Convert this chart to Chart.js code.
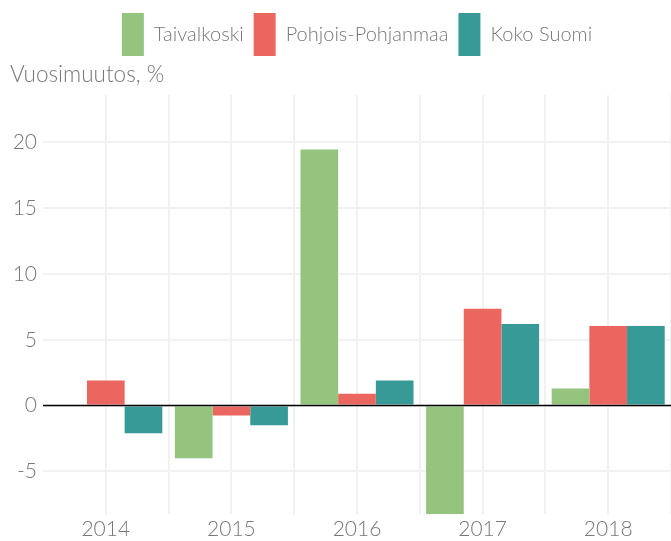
<!DOCTYPE html>
<html>
<head>
<meta charset="utf-8">
<script src="https://cdn.jsdelivr.net/npm/chart.js@4/dist/chart.umd.min.js"></script>
<style>
  html, body { margin: 0; padding: 0; background: #fff; }
  #wrap { width: 671px; height: 541px; }
</style>
</head>
<body>
<div id="wrap"><canvas id="chart"></canvas></div>
<script>
// data
const years = ['2014', '2015', '2016', '2017', '2018'];
const taivalkoski = [0, -4.0, 19.45, -9.5, 1.3];
const pohjoisPohjanmaa = [1.9, -0.75, 0.9, 7.35, 6.05];
const kokoSuomi = [-2.1, -1.5, 1.9, 6.2, 6.05];
const yTicks = [-5, 0, 5, 10, 15, 20];

const textGrey = '#777777';
const gridGrey = '#f1f1f1';
Chart.defaults.font.family = 'Lato, "Open Sans", sans-serif';
Chart.defaults.font.weight = 300;
Chart.defaults.color = textGrey;

// black line at zero, on top of the bars
const zeroLine = {
    id: 'zeroLine',
    afterDatasetsDraw(chart) {
        const { ctx, chartArea, scales } = chart;
        const y = scales.y.getPixelForValue(0);
        ctx.save();
        ctx.strokeStyle = '#000';
        ctx.lineWidth = 1.5;
        ctx.beginPath();
        ctx.moveTo(chartArea.left, y);
        ctx.lineTo(chartArea.right, y);
        ctx.stroke();
        ctx.restore();
    }
};

const ctx = document.getElementById('chart').getContext('2d');
new Chart(ctx, {
    type: 'bar',
    data: {
        labels: years,
        datasets: [
            { label: 'Taivalkoski', data: taivalkoski, backgroundColor: '#94c47e' },
            { label: 'Pohjois-Pohjanmaa', data: pohjoisPohjanmaa, backgroundColor: '#ec6660' },
            { label: 'Koko Suomi', data: kokoSuomi, backgroundColor: '#389a96' }
        ]
    },
    options: {
        responsive: true,
        maintainAspectRatio: false,
        animation: false,
        layout: { padding: { left: 10, right: 0, top: 3, bottom: 0 } },
        datasets: { bar: { categoryPercentage: 0.9, barPercentage: 1.0 } },
        plugins: {
            tooltip: { enabled: false },
            legend: {
                position: 'top',
                fullSize: false,
                weight: 3000,
                labels: {
                    boxWidth: 22,
                    boxHeight: 43,
                    padding: 10,
                    color: textGrey,
                    font: { size: 20, weight: 300 }
                }
            },
            title: {
                display: true,
                text: 'Vuosimuutos, %',
                align: 'start',
                color: textGrey,
                font: { size: 22.5, weight: 300 },
                padding: { top: -5, bottom: 7 }
            }
        },
        scales: {
            x: {
                grid: { offset: false, color: gridGrey, lineWidth: 2, drawTicks: false },
                border: { display: false },
                ticks: { font: { size: 21 }, padding: 3, color: textGrey },
                afterFit(scale) { scale.height = 27; }
            },
            x2: {
                type: 'category',
                labels: years,
                position: 'bottom',
                offset: true,
                grid: {
                    offset: true,
                    drawTicks: false,
                    lineWidth: 2,
                    color: c => c.index === 0 ? 'rgba(0,0,0,0)' : gridGrey
                },
                border: { display: false },
                ticks: { display: false },
                afterFit(scale) { scale.height = 0; }
            },
            y: {
                min: -8.24,
                max: 23.6,
                afterBuildTicks(scale) { scale.ticks = yTicks.map(v => ({ value: v })); },
                grid: { color: gridGrey, lineWidth: 2, drawTicks: false },
                border: { display: false },
                ticks: { font: { size: 21 }, padding: 6, color: textGrey },
                afterFit(scale) { scale.width = 33; }
            }
        }
    },
    plugins: [zeroLine]
});
</script>
</body>
</html>
